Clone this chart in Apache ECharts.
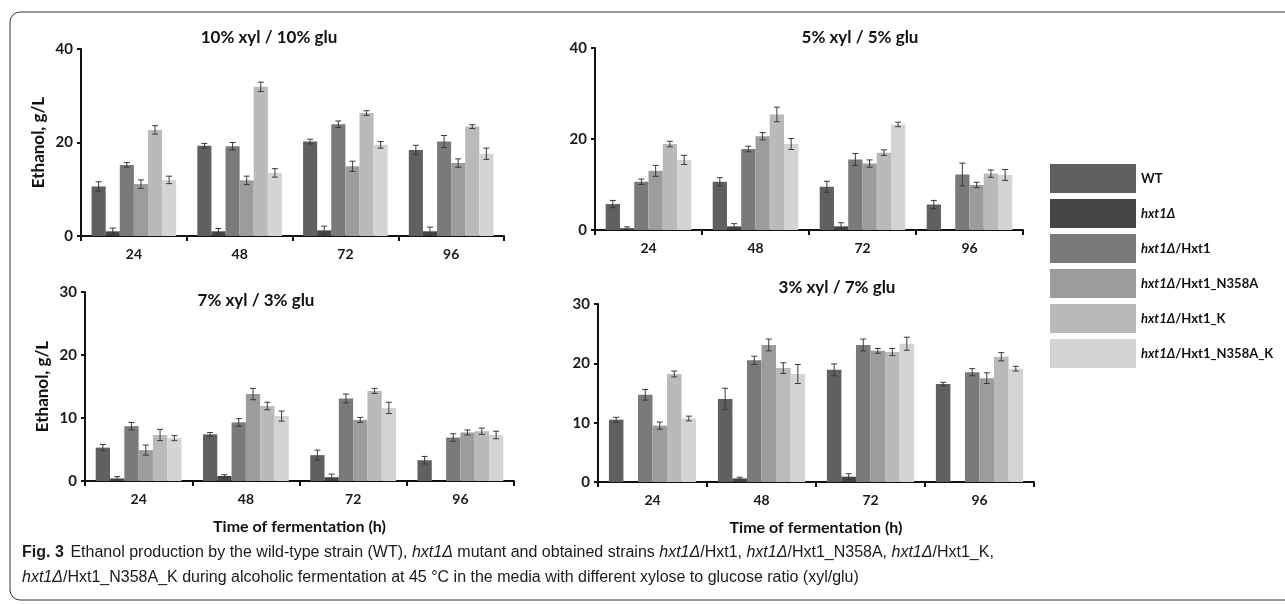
<!DOCTYPE html>
<html>
<head>
<meta charset="utf-8">
<title>Ethanol production</title>
<script src="https://cdn.jsdelivr.net/npm/echarts@6/dist/echarts.min.js"></script>
</head>
<body style="margin:0;background:#fff">
<div id="main" style="width:1285px;height:605px;"></div>
<script type="text/javascript">
// time points and strains
var hours = ['24', '48', '72', '96'];
var strains = ['WT', 'hxt1Δ', 'hxt1Δ/Hxt1', 'hxt1Δ/Hxt1_N358A', 'hxt1Δ/Hxt1_K', 'hxt1Δ/Hxt1_N358A_K'];
var colors = ['#606060', '#454545', '#7a7a7a', '#9c9c9c', '#b9babc', '#d3d4d4'];

// 10% xyl / 10% glu  (one row per strain, values at 24/48/72/96 h)
var xg10 = [
  [10.6, 19.3, 20.2, 18.4],
  [1.0, 1.0, 1.2, 1.0],
  [15.2, 19.2, 23.9, 20.2],
  [11.1, 11.9, 14.9, 15.6],
  [22.7, 31.9, 26.3, 23.4],
  [12.0, 13.5, 19.5, 17.6]
];
var xg10Err = [
  [1.0, 0.5, 0.5, 1.0],
  [0.7, 0.6, 0.9, 0.9],
  [0.5, 0.8, 0.7, 1.3],
  [0.9, 0.9, 1.1, 0.9],
  [0.9, 1.0, 0.5, 0.4],
  [0.8, 0.9, 0.7, 1.2]
];

// 5% xyl / 5% glu
var xg5 = [
  [5.7, 10.6, 9.5, 5.6],
  [0.4, 0.8, 0.8, 0.0],
  [10.6, 17.8, 15.5, 12.2],
  [13.0, 20.6, 14.6, 9.9],
  [18.9, 25.4, 17.0, 12.4],
  [15.4, 18.9, 23.2, 12.1]
];
var xg5Err = [
  [0.8, 0.9, 1.2, 0.9],
  [0.3, 0.6, 0.8, 0.0],
  [0.6, 0.6, 1.3, 2.5],
  [1.2, 0.8, 0.8, 0.6],
  [0.6, 1.6, 0.6, 0.8],
  [1.0, 1.2, 0.5, 1.2]
];

// 7% xyl / 3% glu
var xg73 = [
  [5.3, 7.4, 4.1, 3.3],
  [0.4, 0.8, 0.6, 0.0],
  [8.7, 9.3, 13.1, 6.9],
  [4.9, 13.8, 9.7, 7.7],
  [7.3, 11.9, 14.3, 7.9],
  [6.8, 10.3, 11.6, 7.3]
];
var xg73Err = [
  [0.5, 0.3, 0.8, 0.6],
  [0.3, 0.2, 0.5, 0.0],
  [0.6, 0.6, 0.7, 0.6],
  [0.8, 0.9, 0.4, 0.4],
  [0.9, 0.6, 0.4, 0.5],
  [0.4, 0.8, 0.9, 0.6]
];

// 3% xyl / 7% glu
var xg37 = [
  [10.5, 14.0, 18.9, 16.5],
  [0.0, 0.6, 0.9, 0.0],
  [14.7, 20.5, 23.1, 18.5],
  [9.5, 23.1, 22.1, 17.5],
  [18.2, 19.2, 21.9, 21.1],
  [10.7, 18.2, 23.3, 19.1]
];
var xg37Err = [
  [0.4, 1.8, 1.0, 0.3],
  [0.0, 0.2, 0.5, 0.0],
  [0.9, 0.7, 1.0, 0.6],
  [0.6, 1.0, 0.4, 0.9],
  [0.5, 0.9, 0.6, 0.7],
  [0.4, 1.6, 1.1, 0.4]
];

var panels = [
  { vals: xg10, err: xg10Err, max: 40, step: 20, grid: { left: 81, right: 781, top: 49, bottom: 369 }, yName: true, xName: false },
  { vals: xg5,  err: xg5Err,  max: 40, step: 20, grid: { left: 595, right: 262, top: 48, bottom: 375 }, yName: false, xName: false },
  { vals: xg73, err: xg73Err, max: 30, step: 10, grid: { left: 85, right: 771, top: 292, bottom: 124 }, yName: true, xName: true },
  { vals: xg37, err: xg37Err, max: 30, step: 10, grid: { left: 598, right: 251, top: 304, bottom: 123 }, yName: false, xName: true }
];

var FONT = 'Lato, "Liberation Sans", sans-serif';
var grids = [], xAxes = [], yAxes = [], series = [];

panels.forEach(function (p, pi) {
  grids.push(p.grid);
  xAxes.push({
    type: 'category', gridIndex: pi, data: hours,
    axisLine: { lineStyle: { color: '#111', width: 2 } },
    axisTick: { show: true, length: 5, lineStyle: { color: '#111', width: 2 } },
    axisLabel: { color: '#1a1a1a', fontWeight: 'bold', fontSize: 14, fontFamily: FONT, margin: 11 },
    name: p.xName ? 'Time of fermentation (h)' : '',
    nameLocation: 'middle', nameGap: 38,
    nameTextStyle: { color: '#111', fontWeight: 'bold', fontSize: 16, fontFamily: FONT }
  });
  yAxes.push({
    type: 'value', gridIndex: pi, min: 0, max: p.max, interval: p.step,
    axisLine: { show: true, lineStyle: { color: '#111', width: 2 } },
    axisTick: { show: true, length: 4, lineStyle: { color: '#111', width: 2 } },
    splitLine: { show: false },
    axisLabel: { color: '#1a1a1a', fontWeight: 'bold', fontSize: 15, fontFamily: FONT, margin: 8 },
    name: p.yName ? 'Ethanol, g/L' : '',
    nameLocation: 'middle', nameGap: 34,
    nameTextStyle: { color: '#111', fontWeight: 'bold', fontSize: 17, fontFamily: FONT }
  });
  var errData = [];
  strains.forEach(function (s, si) {
    series.push({
      name: s, type: 'bar', xAxisIndex: pi, yAxisIndex: pi,
      data: p.vals[si], barGap: 0, barCategoryGap: '20%',
      itemStyle: { color: colors[si] }
    });
    for (var h = 0; h < hours.length; h++) {
      errData.push([h, p.vals[si][h], p.err[si][h], si]);
    }
  });
  series.push({
    type: 'custom', name: 'err' + pi, xAxisIndex: pi, yAxisIndex: pi, z: 5,
    data: errData, encode: { x: 0, y: 1 },
    renderItem: function (params, api) {
      var cat = api.value(0), v = api.value(1), e = api.value(2), si = api.value(3);
      if (!e) return;
      var band = api.size([1, 0])[0];
      var w = band * 0.8 / strains.length;
      var c = api.coord([cat, v]);
      var x = c[0] - band * 0.4 + (si + 0.5) * w;
      var yt = api.coord([cat, v + e])[1];
      var yb = api.coord([cat, Math.max(v - e, 0)])[1];
      var st = { stroke: '#3a3a3a', lineWidth: 1 };
      return {
        type: 'group',
        children: [
          { type: 'line', shape: { x1: x, y1: yt, x2: x, y2: yb }, style: st },
          { type: 'line', shape: { x1: x - 3, y1: yt, x2: x + 3, y2: yt }, style: st },
          { type: 'line', shape: { x1: x - 3, y1: yb, x2: x + 3, y2: yb }, style: st }
        ]
      };
    }
  });
});

var titles = [
  { text: '10% xyl / 10% glu', x: 269, y: 38 },
  { text: '5% xyl / 5% glu', x: 860, y: 38 },
  { text: '7% xyl / 3% glu', x: 256, y: 301 },
  { text: '3% xyl / 7% glu', x: 837, y: 288 }
];

var capFont = '"Liberation Sans", sans-serif';
var capRich = {
  b: { fontWeight: 'bold', fontSize: 16, fontFamily: capFont, fill: '#1a1a1a' },
  n: { fontSize: 16, fontFamily: capFont, fill: '#1a1a1a' },
  i: { fontStyle: 'italic', fontSize: 16, fontFamily: capFont, fill: '#1a1a1a' }
};

var graphics = [
  { type: 'rect', shape: { x: 10, y: 12, width: 1300, height: 588, r: 10 },
    style: { fill: 'none', stroke: '#333', lineWidth: 1 }, silent: true }
];
titles.forEach(function (t) {
  graphics.push({
    type: 'text', x: t.x, y: t.y,
    style: { text: t.text, align: 'center', verticalAlign: 'middle', fill: '#111',
      fontWeight: 'bold', fontSize: 17, fontFamily: FONT }
  });
});
graphics.push({
  type: 'text', x: 22, y: 553,
  style: {
    text: '{b|Fig. 3}  {n|Ethanol production by the wild-type strain (WT), }{i|hxt1Δ}{n| mutant and obtained strains }' +
      '{i|hxt1Δ}{n|/Hxt1, }{i|hxt1Δ}{n|/Hxt1_N358A, }{i|hxt1Δ}{n|/Hxt1_K,}',
    verticalAlign: 'middle', rich: capRich
  }
});
graphics.push({
  type: 'text', x: 22, y: 578,
  style: {
    text: '{i|hxt1Δ}{n|/Hxt1_N358A_K during alcoholic fermentation at 45 °C in the media with different xylose to glucose ratio (xyl/glu)}',
    verticalAlign: 'middle', rich: capRich
  }
});

var myChart = echarts.init(document.getElementById('main'));
myChart.setOption({
  backgroundColor: '#fff',
  animation: false,
  legend: {
    data: strains, orient: 'vertical', left: 1045, top: 159,
    icon: 'rect', itemWidth: 86, itemHeight: 29, itemGap: 6,
    selectedMode: false,
    formatter: function (name) {
      if (name.indexOf('hxt1Δ') === 0) return '{i|hxt1Δ}{b|' + name.slice(5) + '}';
      return '{b|' + name + '}';
    },
    textStyle: {
      rich: {
        i: { fontStyle: 'italic', fontWeight: 'bold', fontSize: 13, fontFamily: FONT, color: '#111' },
        b: { fontWeight: 'bold', fontSize: 13, fontFamily: FONT, color: '#111' }
      }
    }
  },
  grid: grids,
  xAxis: xAxes,
  yAxis: yAxes,
  series: series,
  graphic: graphics
});
</script>
</body>
</html>
